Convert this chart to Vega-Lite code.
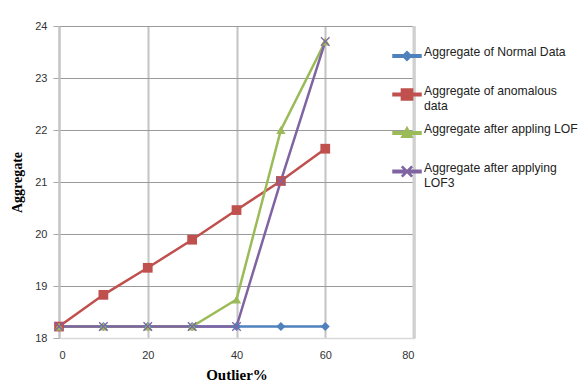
{
  "$schema": "https://vega.github.io/schema/vega-lite/v6.json",
  "width": 355,
  "height": 312,
  "autosize": {"type": "none"},
  "padding": {"left": 59, "top": 26, "right": 168, "bottom": 43},
  "background": "white",
  "config": {
    "view": {"stroke": null},
    "font": "Liberation Sans"
  },
  "data": {
    "values": [
      {"series": "Aggregate of Normal Data", "x": 0, "y": 18.22},
      {"series": "Aggregate of Normal Data", "x": 10, "y": 18.22},
      {"series": "Aggregate of Normal Data", "x": 20, "y": 18.22},
      {"series": "Aggregate of Normal Data", "x": 30, "y": 18.22},
      {"series": "Aggregate of Normal Data", "x": 40, "y": 18.22},
      {"series": "Aggregate of Normal Data", "x": 50, "y": 18.22},
      {"series": "Aggregate of Normal Data", "x": 60, "y": 18.22},
      {"series": "Aggregate of anomalous data", "x": 0, "y": 18.22},
      {"series": "Aggregate of anomalous data", "x": 10, "y": 18.83},
      {"series": "Aggregate of anomalous data", "x": 20, "y": 19.35},
      {"series": "Aggregate of anomalous data", "x": 30, "y": 19.89},
      {"series": "Aggregate of anomalous data", "x": 40, "y": 20.46},
      {"series": "Aggregate of anomalous data", "x": 50, "y": 21.02},
      {"series": "Aggregate of anomalous data", "x": 60, "y": 21.64},
      {"series": "Aggregate after appling LOF", "x": 0, "y": 18.22},
      {"series": "Aggregate after appling LOF", "x": 10, "y": 18.22},
      {"series": "Aggregate after appling LOF", "x": 20, "y": 18.22},
      {"series": "Aggregate after appling LOF", "x": 30, "y": 18.22},
      {"series": "Aggregate after appling LOF", "x": 40, "y": 18.74},
      {"series": "Aggregate after appling LOF", "x": 50, "y": 22.0},
      {"series": "Aggregate after appling LOF", "x": 60, "y": 23.7},
      {"series": "Aggregate after applying LOF3", "x": 0, "y": 18.22},
      {"series": "Aggregate after applying LOF3", "x": 10, "y": 18.22},
      {"series": "Aggregate after applying LOF3", "x": 20, "y": 18.22},
      {"series": "Aggregate after applying LOF3", "x": 30, "y": 18.22},
      {"series": "Aggregate after applying LOF3", "x": 40, "y": 18.22},
      {"series": "Aggregate after applying LOF3", "x": 50, "y": 21.02},
      {"series": "Aggregate after applying LOF3", "x": 60, "y": 23.7}
    ]
  },
  "encoding": {
    "x": {
      "field": "x",
      "type": "quantitative",
      "title": "Outlier%",
      "scale": {"domain": [0, 80], "nice": false},
      "axis": {
        "values": [0, 20, 40, 60, 80],
        "ticks": false,
        "labelPadding": 11,
        "labelFontSize": 11,
        "labelColor": "#333333",
        "labelFont": "Liberation Sans",
        "domainColor": "#d9d9d9",
        "domainWidth": 1.5,
        "gridColor": "#c4c4c4",
        "gridWidth": 2,
        "titleFont": "Liberation Serif",
        "titleFontSize": 15,
        "titleFontWeight": "bold",
        "titleColor": "#000000",
        "titleY": 36,
        "titleBaseline": "middle"
      }
    },
    "y": {
      "field": "y",
      "type": "quantitative",
      "title": "Aggregate",
      "scale": {"domain": [18, 24], "nice": false, "zero": false},
      "axis": {
        "values": [18, 19, 20, 21, 22, 23, 24],
        "tickSize": 6,
        "tickColor": "#a6a6a6",
        "labelPadding": 6,
        "labelFontSize": 11,
        "labelColor": "#333333",
        "labelFont": "Liberation Sans",
        "domainColor": "#c4c4c4",
        "domainWidth": 2,
        "gridColor": "#9a9a9a",
        "gridWidth": 1.2,
        "titleFont": "Liberation Serif",
        "titleFontSize": 14,
        "titleFontWeight": "bold",
        "titleColor": "#000000",
        "titleX": -42,
        "titleBaseline": "middle"
      }
    },
    "color": {
      "field": "series",
      "type": "nominal",
      "scale": {
        "domain": ["Aggregate of Normal Data", "Aggregate of anomalous data", "Aggregate after appling LOF", "Aggregate after applying LOF3"],
        "range": ["#4F81BD", "#C0504D", "#9BBB59", "#8064A2"]
      },
      "legend": {
        "title": null,
        "orient": "none",
        "legendX": 333,
        "legendY": 15,
        "symbolSize": 784,
        "labelFontSize": 12.2,
        "labelColor": "#222222",
        "labelFont": "Liberation Sans",
        "labelLimit": 220,
        "labelBaseline": "alphabetic",
        "labelExpr": "datum.label == 'Aggregate of anomalous data' ? ['Aggregate of anomalous', 'data'] : datum.label == 'Aggregate after applying LOF3' ? ['Aggregate after applying', 'LOF3'] : [datum.label, ' ']",
        "rowPadding": 5.5,
        "labelOffset": 2,
        "encode": {
          "labels": {
            "update": {"lineHeight": {"value": 15}}
          },
          "symbols": {
            "update": {
              "shape": {"signal": "datum.value == 'Aggregate of Normal Data' ? 'M-1,-0.09H1V0.09H-1Z M0,-0.32L0.32,0L0,0.32L-0.32,0Z' : datum.value == 'Aggregate of anomalous data' ? 'M-1,-0.09H1V0.09H-1Z M-0.4,-0.4H0.4V0.4H-0.4Z' : datum.value == 'Aggregate after appling LOF' ? 'M-1,-0.09H1V0.09H-1Z M0,-0.4L0.38,0.3L-0.38,0.3Z' : 'M-1,-0.09H1V0.09H-1Z M-0.36,-0.3L-0.3,-0.36L0,-0.06L0.3,-0.36L0.36,-0.3L0.06,0L0.36,0.3L0.3,0.36L0,0.06L-0.3,0.36L-0.36,0.3L-0.06,0Z'"},
              "fill": {"scale": "color", "field": "value"},
              "stroke": {"value": "transparent"},
              "opacity": {"value": 1}
            }
          }
        }
      }
    }
  },
  "layer": [
    {
      "mark": {"type": "rule", "color": "#d0d0d0", "strokeWidth": 3},
      "data": {"values": [{"edge": 80}]},
      "encoding": {"x": {"field": "edge", "type": "quantitative"}, "y": null, "color": null}
    },
    {
      "mark": {"type": "line", "strokeWidth": 2.5}
    },
    {
      "transform": [{"filter": "datum.series == 'Aggregate of Normal Data'"}],
      "mark": {"type": "point", "filled": true, "opacity": 1, "size": 80, "shape": "diamond"}
    },
    {
      "transform": [{"filter": "datum.series == 'Aggregate of anomalous data'"}],
      "mark": {"type": "point", "filled": true, "opacity": 1, "size": 95, "shape": "square"}
    },
    {
      "transform": [{"filter": "datum.series == 'Aggregate after appling LOF'"}],
      "mark": {"type": "point", "filled": true, "opacity": 1, "size": 85, "shape": "triangle-up"}
    },
    {
      "transform": [{"filter": "datum.series == 'Aggregate after applying LOF3'"}],
      "mark": {"type": "point", "filled": true, "opacity": 1, "size": 90, "shape": "M-1,-0.8L-0.8,-1L0,-0.2L0.8,-1L1,-0.8L0.2,0L1,0.8L0.8,1L0,0.2L-0.8,1L-1,0.8L-0.2,0Z"}
    }
  ]
}
